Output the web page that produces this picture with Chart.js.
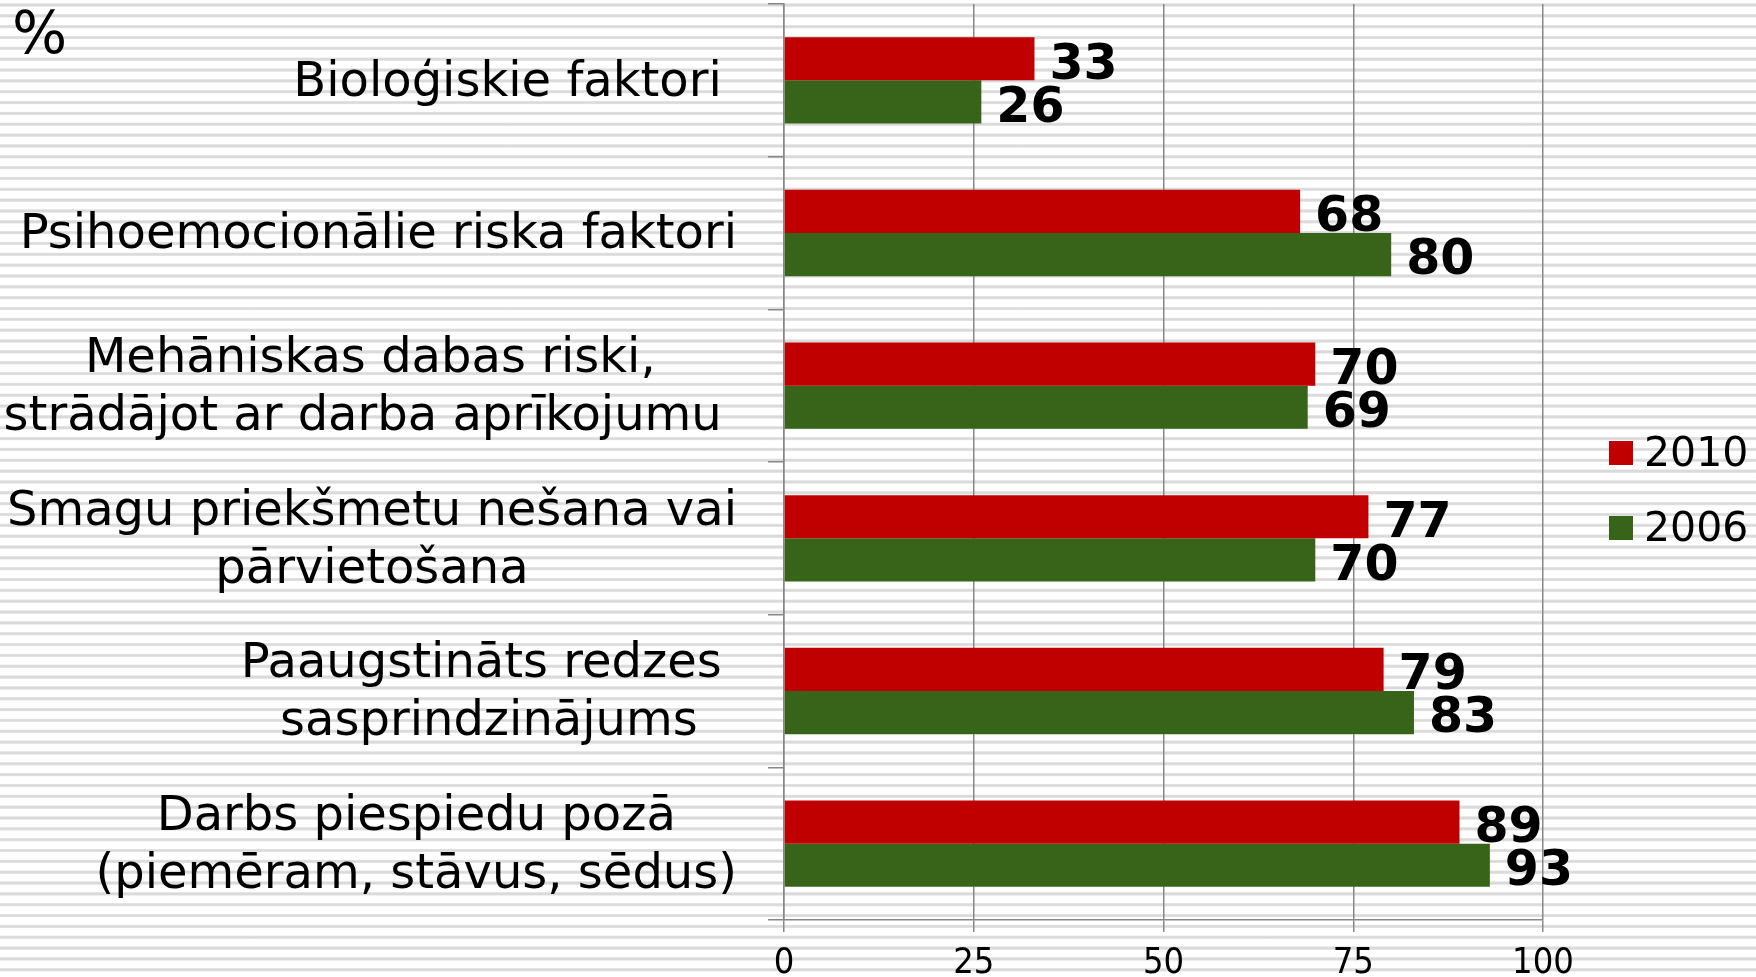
<!DOCTYPE html>
<html><head><meta charset="utf-8">
<script src="https://cdn.jsdelivr.net/npm/chart.js@4.4.1/dist/chart.umd.min.js"></script>
<style>
html,body{margin:0;padding:0;}
body{width:1756px;height:977px;overflow:hidden;background-color:#fff;
background-image:repeating-linear-gradient(to bottom,#fff 0px,#fff 3px,#e6e6e6 3.6px,#dadada 4.4px,#dadada 5.6px,#e6e6e6 6.4px,#fff 7px,#fff 10.84px);}
#wrap{position:relative;width:1756px;height:977px;}
</style></head><body>
<div id="wrap"><canvas id="c" width="1756" height="977"></canvas></div>
<script>
const categories = [
  ["Bioloģiskie faktori "],
  ["Psihoemocionālie riska faktori"],
  ["Mehāniskas dabas riski,", "strādājot ar darba aprīkojumu "],
  ["Smagu priekšmetu nešana vai", "pārvietošana"],
  ["Paaugstināts redzes ", "sasprindzinājums"],
  ["Darbs piespiedu pozā", "(piemēram, stāvus, sēdus)"]
];
const seriesNames = ["2010", "2006"];
const values2010 = [33, 68, 70, 77, 79, 89];
const values2006 = [26, 80, 69, 70, 83, 93];
const xTicks = [0, 25, 50, 75, 100];
const unitLabel = "%";

const colors = ["#C00000", "#38641A"];
const gridColor = "#878787";

const labelPlugin = {
  id: "customText",
  afterDraw(chart) {
    const ctx = chart.ctx;
    const area = chart.chartArea;
    const yScale = chart.scales.y;
    ctx.save();
    ctx.fillStyle = "#000";
    ctx.font = '48px "DejaVu Sans"';
    ctx.textBaseline = "middle";
    const lineH = 58;
    const rightEdge = area.left - 47;
    categories.forEach((lines, i) => {
      const cy = yScale.getPixelForValue(i) + 3;
      const maxW = Math.max(...lines.map(l => ctx.measureText(l).width));
      const cx = rightEdge - maxW / 2;
      lines.forEach((l, j) => {
        const y = cy + (j - (lines.length - 1) / 2) * lineH;
        const w = ctx.measureText(l).width;
        ctx.textAlign = "left";
        ctx.fillText(l, cx - w / 2, y);
      });
    });
    ctx.font = 'bold 49px "DejaVu Sans"';
    ctx.textAlign = "left";
    chart.data.datasets.forEach((ds, di) => {
      const meta = chart.getDatasetMeta(di);
      meta.data.forEach((bar, i) => {
        ctx.fillText(String(ds.data[i]), bar.x + 15, bar.y + 7);
      });
    });
    ctx.font = '58px "DejaVu Sans"';
    ctx.fillText(unitLabel, 12, 38);
    ctx.font = '41px "DejaVu Sans"';
    const legY = [454, 529];
    seriesNames.forEach((n, i) => {
      ctx.fillStyle = colors[i];
      ctx.fillRect(1609, legY[i] - 13, 24, 24);
      ctx.fillStyle = "#000";
      ctx.fillText(n, 1644, legY[i] + 1);
    });
    ctx.restore();
  }
};

new Chart(document.getElementById("c"), {
  type: "bar",
  data: {
    labels: categories,
    datasets: [
      { label: seriesNames[0], data: values2010, backgroundColor: colors[0], borderWidth: 0, categoryPercentage: 0.565, barPercentage: 1 },
      { label: seriesNames[1], data: values2006, backgroundColor: colors[1], borderWidth: 0, categoryPercentage: 0.565, barPercentage: 1 }
    ]
  },
  options: {
    indexAxis: "y",
    responsive: false,
    animation: false,
    devicePixelRatio: 1,
    layout: { padding: { left: 768, right: 213, top: 4, bottom: 0 } },
    plugins: { legend: { display: false }, tooltip: { enabled: false } },
    scales: {
      x: {
        min: 0, max: 100,
        afterBuildTicks: s => { s.ticks = xTicks.map(v => ({ value: v })); },
        afterFit: s => { s.height = 57; },
        ticks: { font: { family: "DejaVu Sans Condensed", size: 36 }, color: "#000", padding: 10, maxRotation: 0 },
        grid: { color: gridColor, lineWidth: 1.5, tickLength: 12 },
        border: { color: gridColor, width: 1.5 }
      },
      y: {
        ticks: { display: false },
        grid: { drawOnChartArea: false, drawTicks: true, tickLength: 16, color: gridColor, lineWidth: 1.5, offset: true },
        border: { color: gridColor, width: 1.5 }
      }
    }
  },
  plugins: [labelPlugin]
});
</script>
</body></html>
